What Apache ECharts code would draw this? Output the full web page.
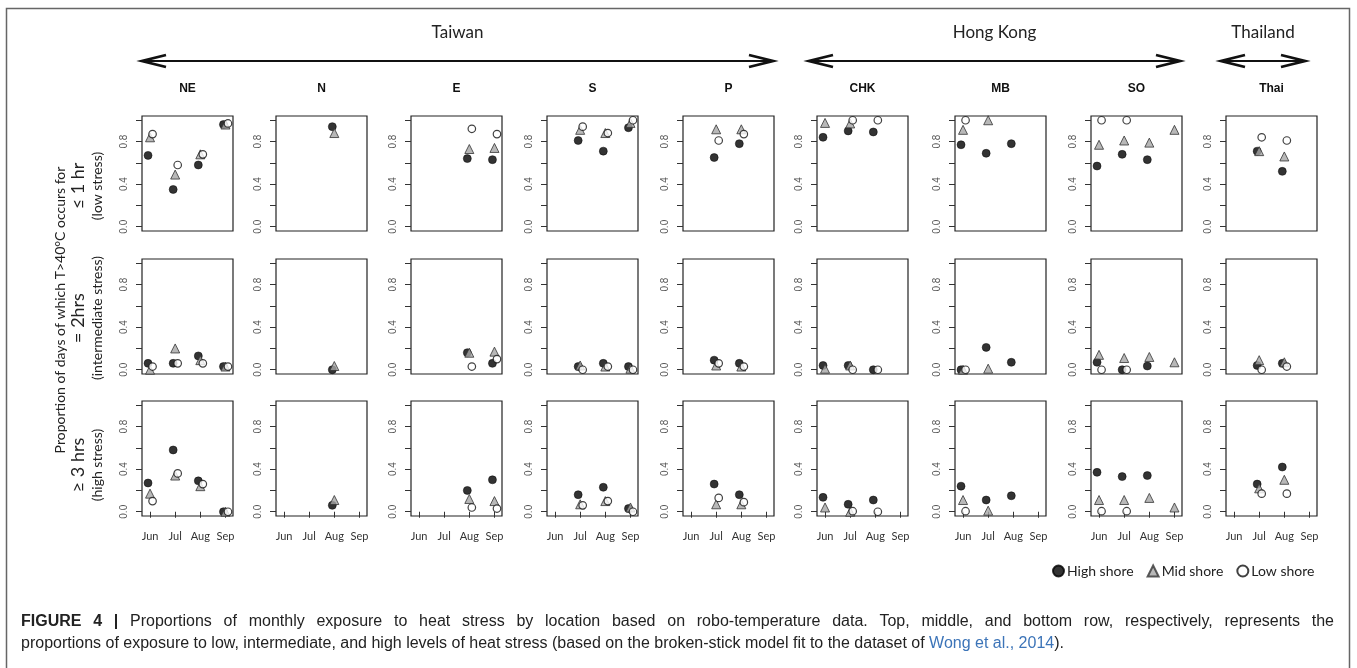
<!DOCTYPE html>
<html>
<head>
<meta charset="utf-8">
<script src="https://cdn.jsdelivr.net/npm/echarts@6/dist/echarts.min.js"></script>
<style>
  html, body { margin: 0; padding: 0; background: #fff; }
  #chart { width: 1357px; height: 668px; }
</style>
</head>
<body>
<div id="chart"></div>
<script>
// sites (columns) and months (x categories)
const sites = ['NE', 'N', 'E', 'S', 'P', 'CHK', 'MB', 'SO', 'Thai'];
const months = ['Jun', 'Jul', 'Aug', 'Sep'];
const yTickValues = [0, 0.2, 0.4, 0.6, 0.8, 1.0];
const yLabelValues = [0, 0.4, 0.8];
const shoreNames = ['High shore', 'Mid shore', 'Low shore'];

// ≤ 1 hr (low stress), one row per site, Jun..Sep
const lowStressHigh = [
  [0.67, 0.35, 0.58, 0.96], [null, null, 0.94, null], [null, null, 0.64, 0.63],
  [null, 0.81, 0.71, 0.93], [null, 0.65, 0.78, null], [0.84, 0.90, 0.89, null],
  [0.77, 0.69, 0.78, null], [0.57, 0.68, 0.63, null], [null, 0.71, 0.52, null]
];
const lowStressMid = [
  [0.84, 0.49, 0.68, 0.96], [null, null, 0.88, null], [null, null, 0.73, 0.74],
  [null, 0.91, 0.88, 0.975], [null, 0.915, 0.915, null], [0.975, 0.97, null, null],
  [0.91, 1.0, null, null], [0.77, 0.81, 0.79, 0.91], [null, 0.71, 0.66, null]
];
const lowStressLow = [
  [0.87, 0.58, 0.68, 0.97], [null, null, null, null], [null, null, 0.92, 0.87],
  [null, 0.94, 0.88, 1.0], [null, 0.81, 0.87, null], [null, 1.0, 1.0, null],
  [1.0, null, null, null], [1.0, 1.0, null, null], [null, 0.84, 0.81, null]
];

// = 2 hrs (intermediate stress)
const interStressHigh = [
  [0.06, 0.06, 0.13, 0.03], [null, null, 0.0, null], [null, null, 0.16, 0.06],
  [null, 0.03, 0.06, 0.03], [null, 0.09, 0.06, null], [0.04, 0.04, 0.0, null],
  [0.0, 0.21, 0.07, null], [0.07, 0.0, 0.035, null], [null, 0.04, 0.06, null]
];
const interStressMid = [
  [0.0, 0.2, 0.09, 0.03], [null, null, 0.035, null], [null, null, 0.16, 0.17],
  [null, 0.04, 0.03, 0.01], [null, 0.04, 0.03, null], [0.01, 0.04, null, null],
  [0.0, 0.01, null, null], [0.14, 0.11, 0.12, 0.07], [null, 0.09, 0.07, null]
];
const interStressLow = [
  [0.03, 0.06, 0.06, 0.03], [null, null, null, null], [null, null, 0.03, 0.1],
  [null, 0.0, 0.03, 0.0], [null, 0.06, 0.03, null], [null, 0.0, 0.0, null],
  [0.0, null, null, null], [0.0, 0.0, null, null], [null, 0.0, 0.03, null]
];

// ≥ 3 hrs (high stress)
const highStressHigh = [
  [0.27, 0.58, 0.29, 0.0], [null, null, 0.06, null], [null, null, 0.2, 0.3],
  [null, 0.16, 0.23, 0.03], [null, 0.26, 0.16, null], [0.135, 0.07, 0.11, null],
  [0.24, 0.11, 0.15, null], [0.37, 0.33, 0.34, null], [null, 0.26, 0.42, null]
];
const highStressMid = [
  [0.17, 0.34, 0.24, 0.0], [null, null, 0.11, null], [null, null, 0.12, 0.1],
  [null, 0.07, 0.1, 0.04], [null, 0.07, 0.07, null], [0.04, 0.0, null, null],
  [0.11, 0.01, null, null], [0.11, 0.11, 0.13, 0.04], [null, 0.22, 0.3, null]
];
const highStressLow = [
  [0.1, 0.36, 0.26, 0.0], [null, null, null, null], [null, null, 0.04, 0.03],
  [null, 0.06, 0.1, 0.0], [null, 0.13, 0.09, null], [null, 0.005, 0.0, null],
  [0.005, null, null, null], [0.005, 0.005, null, null], [null, 0.17, 0.17, null]
];

const rows = [
  [lowStressHigh, lowStressMid, lowStressLow],
  [interStressHigh, interStressMid, interStressLow],
  [highStressHigh, highStressMid, highStressLow]
];

// layout
const colLeft = [142, 276, 411, 547, 683, 817, 955, 1091, 1226];
const rowTop = [116, 259, 401];
const boxW = 91, boxH = 115;
const jitter = [-0.08, 0, 0.1]; // high / mid / low shore offset within a month
const calibri = 'Lato, "Open Sans", sans-serif';
const arial = '"Liberation Sans", Arial, sans-serif';

const shoreStyle = [
  { symbol: 'circle', symbolSize: 8, itemStyle: { color: '#000', borderColor: '#000', borderWidth: 0.6 } },
  { symbol: 'triangle', symbolSize: 9, itemStyle: { color: '#a6a6a6', borderColor: '#333', borderWidth: 1 } },
  { symbol: 'circle', symbolSize: 7.5, itemStyle: { color: '#fff', borderColor: '#111', borderWidth: 1.2 } }
];

const grids = [], xAxes = [], yAxes = [], series = [];
rows.forEach((shores, r) => {
  sites.forEach((site, c) => {
    const gi = grids.length;
    const bottomRow = r === 2;
    grids.push({
      left: colLeft[c], top: rowTop[r], width: boxW, height: boxH,
      show: true, borderColor: '#222', borderWidth: 1.2, backgroundColor: 'transparent'
    });
    xAxes.push({
      gridIndex: gi, type: 'value', min: 0.68, max: 4.3,
      axisLine: { show: false },
      splitLine: { show: false },
      axisTick: { show: bottomRow, customValues: [1, 2, 3, 4], length: 6, lineStyle: { color: '#333' } },
      axisLabel: {
        show: bottomRow, customValues: [1, 2, 3, 4], margin: 15,
        formatter: v => months[Math.round(v) - 1],
        fontSize: 11, color: '#333', fontFamily: calibri
      }
    });
    yAxes.push({
      gridIndex: gi, type: 'value', min: -0.04, max: 1.04,
      axisLine: { show: false },
      splitLine: { show: false },
      axisTick: { show: true, customValues: yTickValues, length: 6, lineStyle: { color: '#333' } },
      axisLabel: {
        show: true, customValues: yLabelValues, rotate: 90, margin: 13,
        formatter: v => v.toFixed(1),
        fontSize: 10, color: '#555', fontFamily: arial
      }
    });
    shores.forEach((arr, s) => {
      const data = [];
      arr[c].forEach((v, m) => { if (v !== null) data.push([m + 1 + jitter[s], v]); });
      series.push(Object.assign({
        type: 'scatter', name: shoreNames[s], xAxisIndex: gi, yAxisIndex: gi,
        data: data, z: 2 + s, silent: true
      }, shoreStyle[s]));
    });
  });
});

// header, arrows, side labels, caption
const graphic = [];
graphic.push({
  type: 'rect', shape: { x: 6.5, y: 8.5, width: 1343, height: 680 },
  style: { fill: 'none', stroke: '#666', lineWidth: 1.5 }, silent: true
});

function arrow(x0, x1, y) {
  return [
    { type: 'line', shape: { x1: x0 + 2, y1: y, x2: x1 - 2, y2: y }, style: { stroke: '#111', lineWidth: 2 } },
    { type: 'polyline', shape: { points: [[x0 + 24, y - 6], [x0, y], [x0 + 24, y + 6]] }, style: { stroke: '#111', lineWidth: 2.8, fill: null } },
    { type: 'polyline', shape: { points: [[x1 - 24, y - 6], [x1, y], [x1 - 24, y + 6]] }, style: { stroke: '#111', lineWidth: 2.8, fill: null } }
  ];
}
const regions = [
  { name: 'Taiwan', x0: 142, x1: 773 },
  { name: 'Hong Kong', x0: 809, x1: 1180 },
  { name: 'Thailand', x0: 1221, x1: 1305 }
];
regions.forEach(g => {
  graphic.push(...arrow(g.x0, g.x1, 61));
  graphic.push({
    type: 'text', x: (g.x0 + g.x1) / 2, y: 33,
    style: { text: g.name, font: '17px ' + calibri, fill: '#222', textAlign: 'center', textVerticalAlign: 'middle' }
  });
});
sites.forEach((s, c) => {
  graphic.push({
    type: 'text', x: colLeft[c] + boxW / 2, y: 89,
    style: { text: s, font: 'bold 12px ' + arial, fill: '#111', textAlign: 'center', textVerticalAlign: 'middle' }
  });
});

graphic.push({
  type: 'text', x: 60, y: 310, rotation: Math.PI / 2,
  style: { text: 'Proportion of days of which T>40°C occurs for', font: '14px ' + calibri, fill: '#222', textAlign: 'center', textVerticalAlign: 'middle' }
});
const rowLabels = [['≤ 1 hr', '(low stress)', 186], ['= 2hrs', '(intermediate stress)', 318], ['≥ 3 hrs', '(high stress)', 465]];
rowLabels.forEach(l => {
  graphic.push({
    type: 'text', x: 78, y: l[2], rotation: Math.PI / 2,
    style: { text: l[0], font: '18px ' + calibri, fill: '#222', textAlign: 'center', textVerticalAlign: 'middle' }
  });
  graphic.push({
    type: 'text', x: 97, y: l[2], rotation: Math.PI / 2,
    style: { text: l[1], font: '14px ' + calibri, fill: '#222', textAlign: 'center', textVerticalAlign: 'middle' }
  });
});

// caption, first line justified to the frame width
const capFont = '16px ' + arial;
const capBold = 'bold 16px ' + arial;
const line1 = 'FIGURE 4 | Proportions of monthly exposure to heat stress by location based on robo-temperature data. Top, middle, and bottom row, respectively, represents the'.split(' ');
const ctx = document.createElement('canvas').getContext('2d');
const capLeft = 21, capRight = 1334;
const words = line1.map((w, i) => {
  const f = i < 3 ? capBold : capFont;
  ctx.font = f;
  return { w: w, font: f, width: ctx.measureText(w).width };
});
const totalW = words.reduce((a, b) => a + b.width, 0);
const gap = (capRight - capLeft - totalW) / (words.length - 1);
let cx = capLeft;
words.forEach(wd => {
  graphic.push({
    type: 'text', x: cx, y: 622,
    style: { text: wd.w, font: wd.font, fill: '#222', textVerticalAlign: 'middle' }
  });
  cx += wd.width + gap;
});
graphic.push({
  type: 'text', x: capLeft, y: 644,
  style: {
    text: 'proportions of exposure to low, intermediate, and high levels of heat stress (based on the broken-stick model fit to the dataset of {a|Wong et al., 2014}).',
    font: capFont, fill: '#222', textVerticalAlign: 'middle',
    rich: { a: { fill: '#3c74b8', fontSize: 16, fontFamily: arial } }
  }
});

const chart = echarts.init(document.getElementById('chart'));
chart.setOption({
  backgroundColor: '#fff',
  animation: false,
  grid: grids,
  xAxis: xAxes,
  yAxis: yAxes,
  series: series,
  legend: {
    data: shoreNames, left: 1047, top: 559, orient: 'horizontal',
    itemWidth: 11, itemHeight: 11, itemGap: 13,
    textStyle: { fontSize: 14, color: '#222', fontFamily: calibri, padding: [0, 0, 0, -2] }
  },
  graphic: graphic
});
</script>
</body>
</html>
